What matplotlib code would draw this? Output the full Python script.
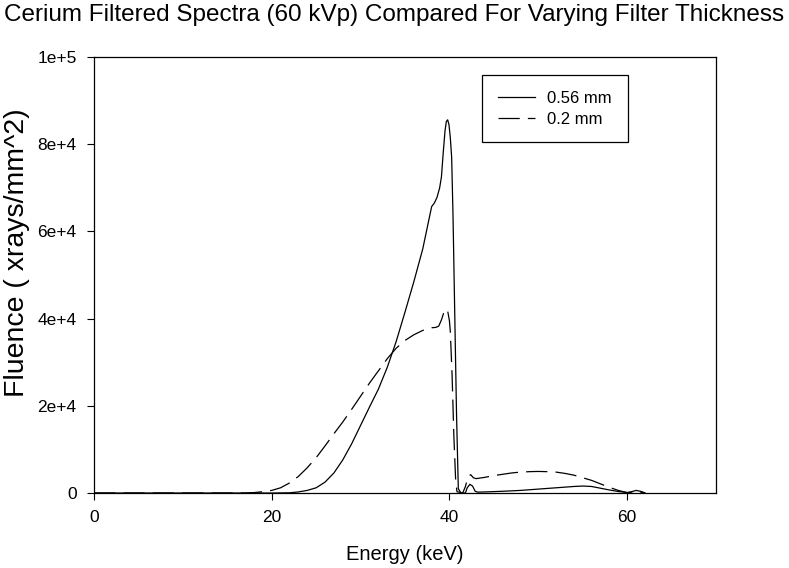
import numpy as np
import matplotlib
matplotlib.use('Agg')
import matplotlib.pyplot as plt

plt.rcParams['font.family'] = ['Liberation Sans', 'DejaVu Sans']

# 0.56 mm cerium filter (energy keV, fluence xrays/mm^2)
energy_056 = [0, 10, 20, 22, 23, 24, 25, 26, 27, 28, 29, 30, 31, 32, 33, 34, 35, 36, 37, 38,
              38.3, 38.6, 38.9, 39.1, 39.3, 39.5, 39.65, 39.8, 39.95, 40.1, 40.25, 40.4, 40.6,
              40.8, 41.0, 41.3, 41.8,
              42.0, 42.3, 42.6, 42.9, 43.2, 44, 46, 48, 50, 52, 54, 55, 56, 57, 58, 59, 60,
              60.5, 61, 61.5, 62]
fluence_056 = [0, 0, 0, 50, 250, 600, 1200, 2500, 4600, 7600, 11300, 15500, 19700, 23800,
               28800, 34700, 41500, 48500, 56000, 65700,
               66500, 67800, 70000, 72500, 78000, 83000, 85200, 85600, 84500, 81500, 77000,
               64000, 41000, 18000, 1000, 0, 0,
               1200, 2000, 1600, 400, 200, 250, 400, 600, 900, 1200, 1500, 1600, 1500, 1100, 700,
               350, 100, 300, 600, 400, 50]

# 0.2 mm cerium filter
energy_02 = [0, 10, 17, 18, 19, 20, 21, 22, 23, 24, 25, 26, 27, 28, 29, 30, 31, 32, 33, 34, 35,
             36, 37, 38, 38.5, 38.8, 39.1, 39.4, 39.6, 39.8, 40.0, 40.1, 40.3, 40.5, 40.7,
             40.85, 41.5, 41.8, 42.1, 42.4, 42.7, 43.0, 44, 45, 46, 47, 48, 49, 50, 51, 52, 53,
             54, 55, 56, 57, 58, 59, 60, 60.5, 61, 61.5, 62]
fluence_02 = [0, 0, 0, 100, 300, 600, 1200, 2300, 3800, 5800, 8100, 10800, 13600, 16300, 19200,
              22200, 25200, 28000, 30800, 33200, 35000,
              36300, 37300, 37900, 38000, 38300, 39700, 41600, 42200, 41800, 39500, 37000,
              27000, 13000, 3000, 300, 0, 1500, 3800, 4200, 3500, 3300, 3600, 4000, 4300, 4600,
              4800, 4900, 4950, 4900, 4800, 4500, 4100, 3500, 2900, 2100, 1300, 600, 100, 200,
              400, 200, 0]

y_ticks = [0, 20000, 40000, 60000, 80000, 100000]
y_tick_labels = ['0', '2e+4', '4e+4', '6e+4', '8e+4', '1e+5']
x_ticks = [0, 20, 40, 60]

fig = plt.figure(figsize=(7.89, 5.68), dpi=100)
ax = fig.add_axes([0.1191, 0.132, 0.7884, 0.7676])

ax.plot(energy_056, fluence_056, color='black', lw=0.9, label='0.56 mm')
ax.plot(energy_02, fluence_02, color='black', lw=0.9, dashes=[17, 6.5], label='0.2 mm')

ax.set_xlim(0, 70)
ax.set_ylim(0, 100000)
ax.set_xticks(x_ticks)
ax.set_yticks(y_ticks)
ax.set_yticklabels(y_tick_labels)
ax.tick_params(direction='out', length=5, width=0.8, labelsize=12.5, pad=7.5)
for s in ax.spines.values():
    s.set_linewidth(0.9)

ax.set_xlabel('Energy (keV)', fontsize=14.5)
ax.xaxis.set_label_coords(0.5, -0.119)
ax.set_ylabel('Fluence ( xrays/mm^2)', fontsize=20.5)
ax.yaxis.set_label_coords(-0.103, 0.552)
fig.text(0.5, 0.9736, 'Cerium Filtered Spectra (60 kVp) Compared For Varying Filter Thickness',
         ha='center', va='center', fontsize=17.5)

leg = ax.legend(loc='upper left', bbox_to_anchor=(0.624, 0.959), fontsize=12,
                fancybox=False, edgecolor='black', framealpha=1, handlelength=2.2,
                borderpad=0.95, labelspacing=0.35, handletextpad=0.75, borderaxespad=0)
leg.get_frame().set_linewidth(0.9)

fig.savefig('out.png', dpi=100)
